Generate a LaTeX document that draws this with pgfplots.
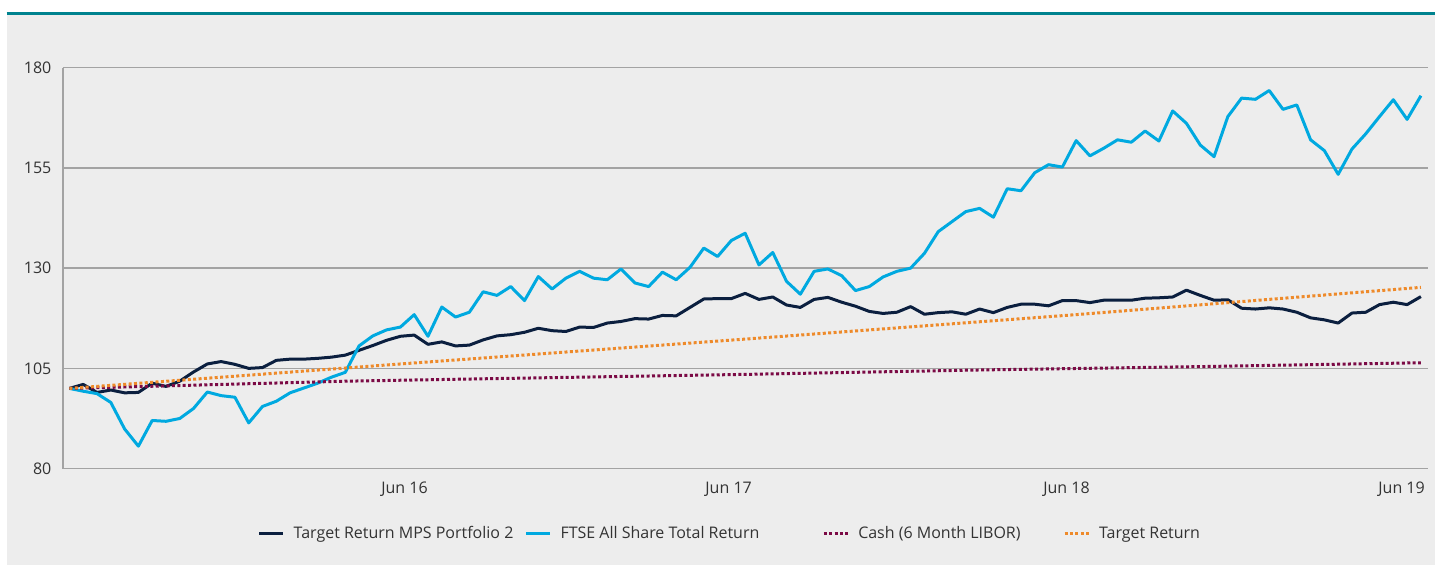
\documentclass[border=0pt]{standalone}
\usepackage{fontspec}
\setmainfont{Open Sans}
\usepackage{pgfplots}
\pgfplotsset{compat=1.18}
\usepackage{pgfplotstable}
\definecolor{navy}{HTML}{0B1F3F}
\definecolor{ftse}{HTML}{00A9E0}
\definecolor{cash}{HTML}{7B0A45}
\definecolor{tgt}{HTML}{EE8A2A}
\definecolor{panel}{HTML}{EDEDED}
\definecolor{tealrule}{HTML}{00838F}
\definecolor{gridc}{HTML}{A3A3A3}
\definecolor{txt}{HTML}{333333}

\pgfplotstableread{
i mps ftse
0 100.0 100.0
1 101.0 99.3
2 99.0 98.7
3 99.6 96.5
4 98.9 89.9
5 99.0 85.6
6 101.3 92.0
7 100.5 91.8
8 101.8 92.5
9 104.1 95.0
10 106.1 99.1
11 106.7 98.2
12 106.0 97.8
13 105.0 91.4
14 105.2 95.5
15 107.0 96.8
16 107.3 98.9
17 107.3 100.1
18 107.5 101.3
19 107.8 102.8
20 108.3 104.0
21 109.5 110.6
22 110.7 113.1
23 112.0 114.6
24 113.0 115.3
25 113.3 118.4
26 111.0 113.0
27 111.6 120.3
28 110.6 117.8
29 110.8 119.0
30 112.1 124.1
31 113.1 123.2
32 113.4 125.4
33 114.0 121.9
34 115.0 127.9
35 114.4 124.8
36 114.2 127.5
37 115.3 129.2
38 115.2 127.5
39 116.3 127.1
40 116.7 129.8
41 117.4 126.3
42 117.3 125.4
43 118.2 129.0
44 118.1 127.1
45 120.2 130.2
46 122.3 135.0
47 122.4 132.9
48 122.4 136.9
49 123.7 138.7
50 122.2 130.8
51 122.8 133.9
52 120.8 126.7
53 120.2 123.5
54 122.2 129.2
55 122.7 129.8
56 121.5 128.1
57 120.5 124.4
58 119.2 125.4
59 118.7 127.8
60 119.0 129.2
61 120.4 130.0
62 118.5 133.7
63 118.9 139.1
64 119.1 141.6
65 118.5 144.1
66 119.8 144.9
67 118.9 142.7
68 120.2 149.8
69 121.0 149.3
70 121.0 153.8
71 120.6 155.8
72 121.9 155.2
73 121.9 161.8
74 121.4 158.0
75 122.0 159.9
76 122.0 162.0
77 122.0 161.4
78 122.5 164.2
79 122.6 161.7
80 122.8 169.2
81 124.5 166.1
82 123.2 160.7
83 122.0 157.8
84 122.1 167.8
85 120.0 172.4
86 119.8 172.1
87 120.1 174.3
88 119.8 169.6
89 119.0 170.7
90 117.6 162.0
91 117.1 159.3
92 116.3 153.4
93 118.8 159.7
94 119.0 163.5
95 120.9 167.8
96 121.5 172.0
97 120.9 167.1
98 122.9 173.0
}\mainseries

\pgfplotstableread{
i cash
0 100.0
10 100.9
20 101.8
30 102.4
49 103.5
66 104.6
83 105.5
98 106.4
}\cashseries

\pgfplotstableread{
i tgt
0 100.0
24 106.1
49 112.3
73 118.4
98 125.2
}\tgtseries

\begin{document}
\begin{tikzpicture}
\fill[white] (0,0) rectangle (718pt,284.5pt);
\fill[panel] (3.5pt,2pt) rectangle (718pt,277pt);
\draw[tealrule, line width=1.2pt] (3.3pt,277.75pt) -- (718pt,277.75pt);
\useasboundingbox (0,0) rectangle (718pt,284.5pt);
\begin{axis}[
  at={(31.5pt,50pt)}, anchor=south west,
  scale only axis, width=683pt, height=200.65pt,
  xmin=-0.47, xmax=98.5, ymin=80, ymax=180,
  axis x line*=bottom, axis y line*=left,
  axis line style={draw=gridc, line width=0.65pt, -},
  ymajorgrids, grid style={draw=gridc, line width=0.65pt},
  major tick length=0pt,
  ytick={80,105,130,155,180},
  xtick={24.3,47.8,72.3,96.6},
  xticklabels={Jun 16,Jun 17,Jun 18,Jun 19},
  /pgf/number format/assume math mode=true,
  tick label style={font=\fontsize{8}{9.6}\selectfont, text=txt, inner sep=0pt},
  yticklabel shift=5.6pt,
  xticklabel shift=6.6pt,
  legend style={at={(axis description cs:0.14275,-0.163)}, anchor=west,
    draw=none, fill=none, inner sep=0pt, outer sep=0pt,
    font=\fontsize{8}{9.6}\selectfont, text=txt,
    nodes={inner sep=0pt},
    /tikz/every odd column/.append style={column sep=4.5pt},
    /tikz/every even column/.append style={column sep=0pt}},
  legend columns=4,
  legend cell align=left,
  legend image code/.code={\draw[#1] (0pt,0pt) -- (12pt,0pt);},
]
\addplot[navy, line width=1.5pt, line join=round] table[x=i, y=mps] {\mainseries};
\addlegendentry{\makebox[115.5pt][l]{Target Return MPS Portfolio 2}}
\addplot[ftse, line width=1.5pt, line join=round] table[x=i, y=ftse] {\mainseries};
\addlegendentry{\makebox[131pt][l]{FTSE All Share Total Return}}
\addplot[cash, line width=1.5pt, dash pattern=on 1.5pt off 1.2pt] table[x=i, y=cash] {\cashseries};
\addlegendentry{\makebox[102.5pt][l]{Cash (6 Month LIBOR)}}
\addplot[tgt, line width=1.5pt, dash pattern=on 1.5pt off 1.2pt] table[x=i, y=tgt] {\tgtseries};
\addlegendentry{Target Return}
\end{axis}
\end{tikzpicture}
\end{document}
